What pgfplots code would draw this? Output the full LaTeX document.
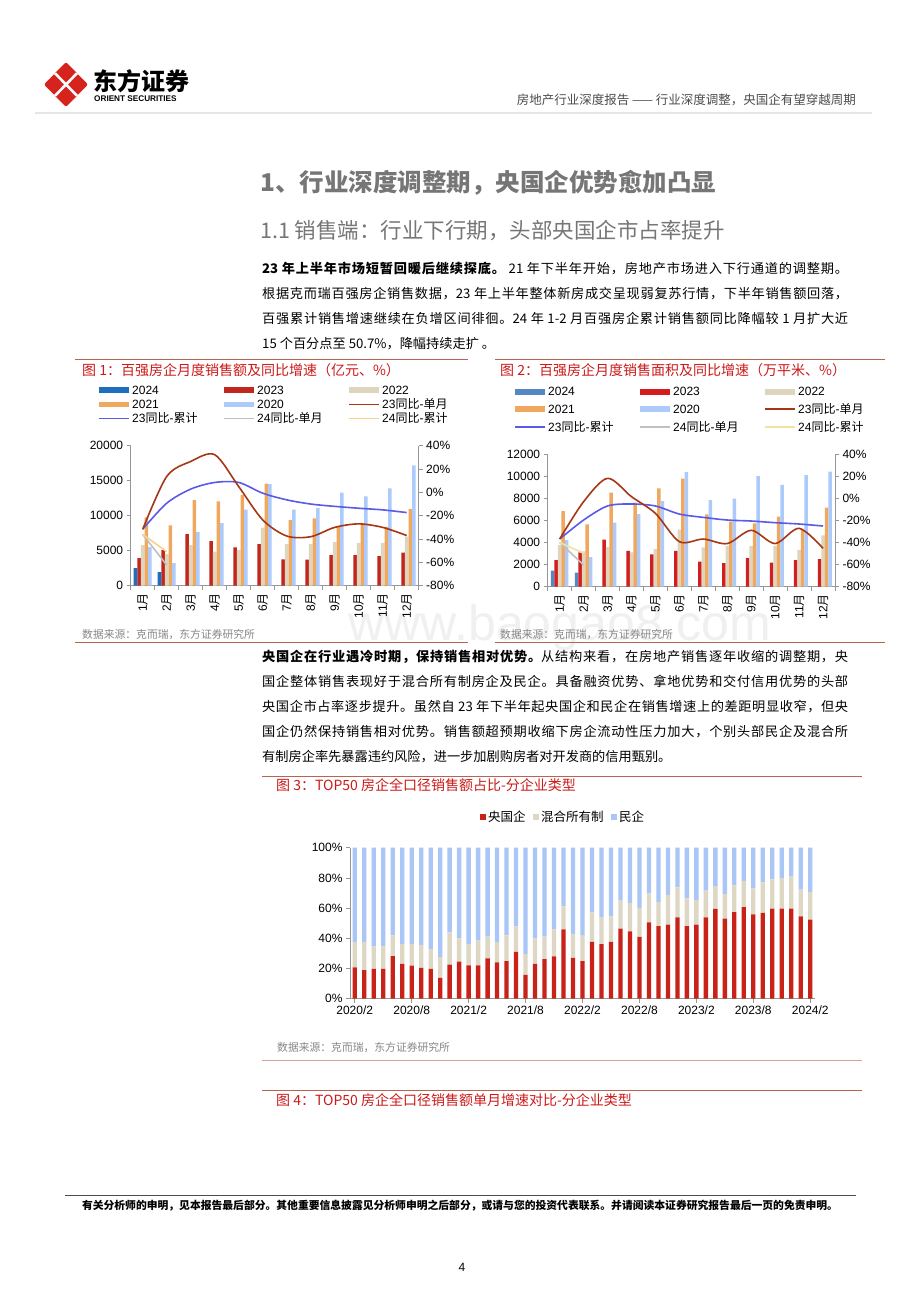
\documentclass[border=0pt]{standalone}
\usepackage{pgfplots}
\pgfplotsset{compat=1.18}
\usepackage{pgfplotstable}
\usepackage{fontspec}
\setmainfont{Noto Sans CJK SC}
\newfontfamily\arial{Liberation Sans}
\XeTeXlinebreaklocale "zh"
\XeTeXlinebreakskip=0pt plus 1pt
\XeTeXinterchartokenstate=1
\newcount\cc
\cc="4E00 \loop \XeTeXcharclass\cc=10 \advance\cc by 1 \ifnum\cc<"9FA6 \repeat
\cc="3001 \loop \XeTeXcharclass\cc=10 \advance\cc by 1 \ifnum\cc<"3020 \repeat
\cc="FF01 \loop \XeTeXcharclass\cc=10 \advance\cc by 1 \ifnum\cc<"FF60 \repeat
\XeTeXinterchartoks 10 10 = {\hskip0pt plus 2pt\relax}

\definecolor{figred}{RGB}{204,25,25}
\definecolor{rulered}{RGB}{185,100,80}
\definecolor{titlegray}{RGB}{118,118,118}
\definecolor{axisgray}{RGB}{150,150,150}
\definecolor{srcgray}{RGB}{135,135,135}
\definecolor{logored}{RGB}{215,35,30}
\definecolor{cA}{RGB}{30,110,190}
\definecolor{cB}{RGB}{192,40,30}
\definecolor{cC}{RGB}{221,213,190}
\definecolor{cD}{RGB}{240,168,96}
\definecolor{cE}{RGB}{172,202,250}
\definecolor{lA}{RGB}{165,55,20}
\definecolor{lB}{RGB}{90,90,232}
\definecolor{lC}{RGB}{192,192,192}
\definecolor{lD}{RGB}{247,210,140}
\definecolor{cA2}{RGB}{85,135,195}
\definecolor{cB2}{RGB}{210,30,30}
\definecolor{lD2}{RGB}{242,226,160}
\definecolor{gov}{RGB}{200,35,25}
\definecolor{mix}{RGB}{222,215,196}
\definecolor{pri}{RGB}{170,198,246}

\pgfplotstableread{
i g m p
0 20.8 16.8 62.4
1 19.0 18.6 62.4
2 19.7 14.9 65.4
3 19.7 14.9 65.4
4 28.2 13.8 58.0
5 23.0 13.1 63.9
6 21.9 14.2 63.9
7 20.4 15.3 64.3
8 19.7 13.3 67.0
9 13.8 13.8 72.4
10 22.5 21.5 56.0
11 24.5 15.5 60.0
12 22.1 14.0 63.9
13 22.1 16.4 61.5
14 26.7 14.4 58.9
15 24.1 13.3 62.6
16 24.9 17.1 58.0
17 31.1 16.8 52.1
18 15.8 13.7 70.5
19 23.0 17.0 60.0
20 26.3 14.8 58.9
21 28.0 18.0 54.0
22 46.0 15.1 38.9
23 27.1 15.8 57.1
24 24.9 16.9 58.2
25 37.6 19.5 42.9
26 36.1 17.7 46.2
27 37.6 16.9 45.5
28 46.4 18.5 35.1
29 44.6 18.9 36.5
30 40.9 19.3 39.8
31 50.5 19.2 30.3
32 48.1 16.1 35.8
33 49.0 19.8 31.2
34 53.8 19.9 26.3
35 48.1 18.3 33.6
36 49.0 16.3 34.7
37 53.8 17.7 28.5
38 59.5 15.1 25.4
39 53.0 16.5 30.5
40 57.3 17.7 25.0
41 60.6 17.5 21.9
42 55.8 17.2 27.0
43 56.9 20.1 23.0
44 59.7 19.3 21.0
45 59.7 20.2 20.1
46 59.7 21.1 19.2
47 54.5 17.7 27.8
48 52.3 18.5 29.2
}\tabthree

\newcommand\m[1]{{\arial #1}月}
\newcommand\legbar[4]{\fill[#1] (#2,#3-2.8) rectangle (#2+30,#3+2.8); \node[anchor=west,inner sep=0pt,font=\fontsize{12}{12}\selectfont] at (#2+33,#3) {#4};}
\newcommand\legline[4]{\draw[#1,line width=1.6pt] (#2,#3) -- (#2+30,#3); \node[anchor=west,inner sep=0pt,font=\fontsize{12}{12}\selectfont] at (#2+33,#3) {#4};}

\pgfplotsset{
  baseax/.style={scale only axis,
    axis line style={draw=axisgray, line width=0.6pt},
    tick style={draw=axisgray, line width=0.6pt},
    tick align=outside, major tick length=4pt,
    tick label style={font=\arial\fontsize{12}{12}\selectfont},
    /pgf/number format/assume math mode=true,
    /pgf/number format/1000 sep={},
    scaled y ticks=false, clip=false},
}

\begin{document}
\begin{tikzpicture}
\begin{scope}[x=1pt,y=1pt]
\path[fill=white] (0,0) rectangle (920,-1302);

% watermark
\node[text=gray!12, font=\arial\fontsize{50}{50}\selectfont] at (560,-628) {www.baogao8.com};

% ---------- header ----------
\fill[logored, rounded corners=2pt] (66,-62) -- (88,-84.5) -- (66,-107) -- (44,-84.5) -- cycle;
\draw[white, line width=2.6pt] (55,-73.25) -- (77,-95.75);
\draw[white, line width=2.6pt] (77,-73.25) -- (55,-95.75);
\node[anchor=west, inner sep=0pt, font=\bfseries\fontsize{24}{24}\selectfont] at (93,-81) {东方证券};
\node[anchor=west, inner sep=0pt, font=\arial\bfseries\fontsize{8.2}{8}\selectfont] at (94,-99) {ORIENT SECURITIES};
\node[anchor=east, inner sep=0pt, text=black!70, font=\fontsize{12.5}{12}\selectfont] at (856,-100) {房地产行业深度报告 —— 行业深度调整，央国企有望穿越周期};
\draw[gray!20, line width=2pt] (35,-113) -- (872,-113);

% ---------- titles ----------
\node[anchor=west, inner sep=0pt, text=titlegray, font=\bfseries\fontsize{24.5}{25}\selectfont] at (260,-183) {1、行业深度调整期，央国企优势愈加凸显};
\node[anchor=west, inner sep=0pt, text=titlegray, font=\fontsize{21.5}{22}\selectfont] at (260,-231) {1.1 销售端：行业下行期，头部央国企市占率提升};

% ---------- paragraphs ----------
\begin{scope}[every node/.style={anchor=base west, inner sep=0pt, font=\fontsize{13.2}{13}\selectfont}]
\node at (262,-273) {\makebox[586pt][s]{{\bfseries 23 年上半年市场短暂回暖后继续探底。} 21 年下半年开始，房地产市场进入下行通道的调整期。}};
\node at (262,-298) {\makebox[586pt][s]{根据克而瑞百强房企销售数据，23 年上半年整体新房成交呈现弱复苏行情，下半年销售额回落，}};
\node at (262,-323) {\makebox[586pt][s]{百强累计销售增速继续在负增区间徘徊。24 年 1-2 月百强房企累计销售额同比降幅较 1 月扩大近}};
\node at (262,-348) {15 个百分点至 50.7\%，降幅持续走扩 。};
\node at (262,-661) {\makebox[586pt][s]{{\bfseries 央国企在行业遇冷时期，保持销售相对优势。}从结构来看，在房地产销售逐年收缩的调整期，央}};
\node at (262,-686) {\makebox[586pt][s]{国企整体销售表现好于混合所有制房企及民企。具备融资优势、拿地优势和交付信用优势的头部}};
\node at (262,-711) {\makebox[586pt][s]{央国企市占率逐步提升。虽然自 23 年下半年起央国企和民企在销售增速上的差距明显收窄，但央}};
\node at (262,-736) {\makebox[586pt][s]{国企仍然保持销售相对优势。销售额超预期收缩下房企流动性压力加大，个别头部民企及混合所}};
\node at (262,-761) {有制房企率先暴露违约风险，进一步加剧购房者对开发商的信用甄别。};
\end{scope}

% ---------- figure frames ----------
\draw[rulered, line width=0.7pt] (75,-359) -- (468,-359);
\draw[rulered, line width=0.7pt] (495,-359) -- (885,-359);
\draw[rulered, line width=0.7pt] (75,-642) -- (468,-642);
\draw[rulered, line width=0.7pt] (495,-642) -- (885,-642);
\node[anchor=west, inner sep=0pt, text=figred, font=\fontsize{14}{14}\selectfont] at (82,-370) {图 1：百强房企月度销售额及同比增速（亿元、\%）};
\node[anchor=west, inner sep=0pt, text=figred, font=\fontsize{14}{14}\selectfont] at (500,-370) {图 2：百强房企月度销售面积及同比增速（万平米、\%）};
\node[anchor=west, inner sep=0pt, text=srcgray, font=\fontsize{10.8}{11}\selectfont] at (82,-634) {数据来源：克而瑞，东方证券研究所};
\node[anchor=west, inner sep=0pt, text=srcgray, font=\fontsize{10.8}{11}\selectfont] at (500,-634) {数据来源：克而瑞，东方证券研究所};

% legend 1
\legbar{cA}{99}{-390}{{\arial 2024}}
\legbar{cB}{224}{-390}{{\arial 2023}}
\legbar{cC}{349}{-390}{{\arial 2022}}
\legbar{cD}{99}{-404.3}{{\arial 2021}}
\legbar{cE}{224}{-404.3}{{\arial 2020}}
\legline{lA}{349}{-404.3}{{\arial 23}同比{\arial -}单月}
\legline{lB}{99}{-418.3}{{\arial 23}同比{\arial -}累计}
\legline{lC}{224}{-418.3}{{\arial 24}同比{\arial -}单月}
\legline{lD}{349}{-418.3}{{\arial 24}同比{\arial -}累计}
% legend 2
\legbar{cA2}{515}{-391.7}{{\arial 2024}}
\legbar{cB2}{640}{-391.7}{{\arial 2023}}
\legbar{cC}{765}{-391.7}{{\arial 2022}}
\legbar{cD}{515}{-409}{{\arial 2021}}
\legbar{cE}{640}{-409}{{\arial 2020}}
\legline{lA}{765}{-409}{{\arial 23}同比{\arial -}单月}
\legline{lB}{515}{-426.7}{{\arial 23}同比{\arial -}累计}
\legline{lC}{640}{-426.7}{{\arial 24}同比{\arial -}单月}
\legline{lD2}{765}{-426.7}{{\arial 24}同比{\arial -}累计}

% figure 3 / 4 text
\draw[rulered, line width=0.7pt] (262,-776) -- (862,-776);
\node[anchor=west, inner sep=0pt, text=figred, font=\fontsize{14}{14}\selectfont] at (276,-785) {图 3：TOP50 房企全口径销售额占比-分企业类型};
\fill[gov] (480,-820) rectangle (486,-814);
\node[anchor=west, inner sep=0pt, font=\fontsize{12.5}{13}\selectfont] at (488,-817) {央国企};
\fill[mix] (533,-820) rectangle (539,-814);
\node[anchor=west, inner sep=0pt, font=\fontsize{12.5}{13}\selectfont] at (541,-817) {混合所有制};
\fill[pri] (611,-820) rectangle (617,-814);
\node[anchor=west, inner sep=0pt, font=\fontsize{12.5}{13}\selectfont] at (619,-817) {民企};
\node[anchor=west, inner sep=0pt, text=srcgray, font=\fontsize{10.8}{11}\selectfont] at (277,-1047) {数据来源：克而瑞，东方证券研究所};
\draw[rulered!60, line width=0.6pt] (262,-1060) -- (862,-1060);
\draw[rulered, line width=0.7pt] (262,-1090) -- (862,-1090);
\node[anchor=west, inner sep=0pt, text=figred, font=\fontsize{14}{14}\selectfont] at (276,-1100) {图 4：TOP50 房企全口径销售额单月增速对比-分企业类型};

% footer
\draw[black!70, line width=0.9pt] (65,-1195) -- (856,-1195);
\node[inner sep=0pt, font=\bfseries\fontsize{10.8}{11}\selectfont] at (460,-1206) {有关分析师的申明，见本报告最后部分。其他重要信息披露见分析师申明之后部分，或请与您的投资代表联系。并请阅读本证券研究报告最后一页的免责申明。};
\node[inner sep=0pt, font=\arial\fontsize{12}{12}\selectfont] at (462,-1267) {4};
\end{scope}

% ---------- chart 1 ----------
\begin{axis}[baseax, at={(130.7pt,-585.7pt)}, anchor=south west, width=288pt, height=140pt,
  xmin=0.5, xmax=12.5, ymin=0, ymax=20000,
  axis x line*=bottom, axis y line*=left,
  xtick={0.5,1.5,...,12.5}, x tick label as interval,
  xticklabels={\m{1},\m{2},\m{3},\m{4},\m{5},\m{6},\m{7},\m{8},\m{9},\m{10},\m{11},\m{12}},
  xticklabel style={rotate=90, anchor=east, font=\fontsize{12}{12}\selectfont},
  ytick={0,5000,...,20000},
  ybar=0pt, bar width=3.6pt]
\addplot[fill=cA, draw=none] coordinates {(1,2500)(2,1950)};
\addplot[fill=cB, draw=none] coordinates {(1,3950)(2,5100)(3,7380)(4,6380)(5,5480)(6,5950)(7,3760)(8,3710)(9,4380)(10,4380)(11,4240)(12,4710)};
\addplot[fill=cC, draw=none] coordinates {(1,5810)(2,4500)(3,5810)(4,4860)(5,5100)(6,8300)(7,5950)(8,5950)(9,6240)(10,6100)(11,6100)(12,7000)};
\addplot[fill=cD, draw=none] coordinates {(1,9760)(2,8620)(3,12240)(4,12050)(5,12950)(6,14570)(7,9380)(8,9620)(9,8500)(10,8700)(11,8400)(12,10950)};
\addplot[fill=cE, draw=none] coordinates {(1,5500)(2,3240)(3,7670)(4,8950)(5,10860)(6,14520)(7,10860)(8,11100)(9,13290)(10,12760)(11,13900)(12,17200)};
\end{axis}
\begin{axis}[baseax, at={(130.7pt,-585.7pt)}, anchor=south west, width=288pt, height=140pt,
  xmin=0.5, xmax=12.5, ymin=-80, ymax=40,
  axis y line*=right, axis x line=none,
  ytick={-80,-60,...,40}, yticklabel={\pgfmathprintnumber{\tick}\%}]
\addplot[lC, line width=1.6pt, no marks] coordinates {(1,-36)(2,-62.3)};
\addplot[lD, line width=1.6pt, no marks] coordinates {(1,-36)(2,-50.8)};
\addplot[lB, line width=1.6pt, no marks, smooth] coordinates {(1,-31.6)(2,-9.3)(3,2.8)(4,8.5)(5,8.5)(6,-0.7)(7,-6.4)(8,-10)(9,-12)(10,-13.6)(11,-15)(12,-17.3)};
\addplot[lA, line width=1.6pt, no marks, smooth] coordinates {(1,-31.6)(2,13.6)(3,26.5)(4,32.3)(5,5)(6,-23.6)(7,-37.4)(8,-38)(9,-30)(10,-27)(11,-30)(12,-37)};
\end{axis}

% ---------- chart 2 ----------
\begin{axis}[baseax, at={(547.7pt,-586.7pt)}, anchor=south west, width=287.3pt, height=132.7pt,
  xmin=0.5, xmax=12.5, ymin=0, ymax=12000,
  axis x line*=bottom, axis y line*=left,
  xtick={0.5,1.5,...,12.5}, x tick label as interval,
  xticklabels={\m{1},\m{2},\m{3},\m{4},\m{5},\m{6},\m{7},\m{8},\m{9},\m{10},\m{11},\m{12}},
  xticklabel style={rotate=90, anchor=east, font=\fontsize{12}{12}\selectfont},
  ytick={0,2000,...,12000},
  ybar=0pt, bar width=3.5pt]
\addplot[fill=cA2, draw=none] coordinates {(1,1447)(2,1266)};
\addplot[fill=cB2, draw=none] coordinates {(1,2410)(2,3100)(3,4250)(4,3230)(5,2925)(6,3230)(7,2260)(8,2140)(9,2590)(10,2170)(11,2410)(12,2500)};
\addplot[fill=cC, draw=none] coordinates {(1,3770)(2,3200)(3,3590)(4,3105)(5,3400)(6,5160)(7,3560)(8,3700)(9,3680)(10,3700)(11,3320)(12,4640)};
\addplot[fill=cD, draw=none] coordinates {(1,6840)(2,5640)(3,8500)(4,7600)(5,8890)(6,9770)(7,6540)(8,5880)(9,5730)(10,6330)(11,5130)(12,7150)};
\addplot[fill=cE, draw=none] coordinates {(1,4220)(2,2680)(3,5790)(4,6570)(5,7750)(6,10370)(7,7840)(8,7960)(9,10010)(10,9200)(11,10100)(12,10400)};
\end{axis}
\begin{axis}[baseax, at={(547.7pt,-586.7pt)}, anchor=south west, width=287.3pt, height=132.7pt,
  xmin=0.5, xmax=12.5, ymin=-80, ymax=40,
  axis y line*=right, axis x line=none,
  ytick={-80,-60,...,40}, yticklabel={\pgfmathprintnumber{\tick}\%}]
\addplot[lC, line width=1.6pt, no marks] coordinates {(1,-39.9)(2,-60.4)};
\addplot[lD2, line width=1.6pt, no marks] coordinates {(1,-40)(2,-49.8)};
\addplot[lB, line width=1.6pt, no marks, smooth] coordinates {(1,-36.9)(2,-19.7)(3,-7)(4,-5.2)(5,-7)(6,-14.3)(7,-17.3)(8,-19.7)(9,-20.6)(10,-22.1)(11,-23.3)(12,-25.1)};
\addplot[lA, line width=1.6pt, no marks, smooth] coordinates {(1,-36.9)(2,-3.1)(3,18)(4,1.4)(5,-13.7)(6,-39.3)(7,-36.9)(8,-41)(9,-29)(10,-41)(11,-27.2)(12,-45.3)};
\end{axis}

% ---------- chart 3 ----------
\begin{axis}[baseax, at={(350pt,-998.7pt)}, anchor=south west, width=465pt, height=151pt,
  xmin=-0.5, xmax=48.5, ymin=0, ymax=100,
  axis x line*=bottom, axis y line*=left,
  ybar stacked, bar width=4.3pt,
  xtick={0,6,...,48},
  xticklabels={2020/2,2020/8,2021/2,2021/8,2022/2,2022/8,2023/2,2023/8,2024/2},
  ytick={0,20,...,100}, yticklabel={\pgfmathprintnumber{\tick}\%}]
\addplot[fill=gov, draw=none] table[x=i, y=g] {\tabthree};
\addplot[fill=mix, draw=none] table[x=i, y=m] {\tabthree};
\addplot[fill=pri, draw=none] table[x=i, y=p] {\tabthree};
\end{axis}
\end{tikzpicture}
\end{document}
